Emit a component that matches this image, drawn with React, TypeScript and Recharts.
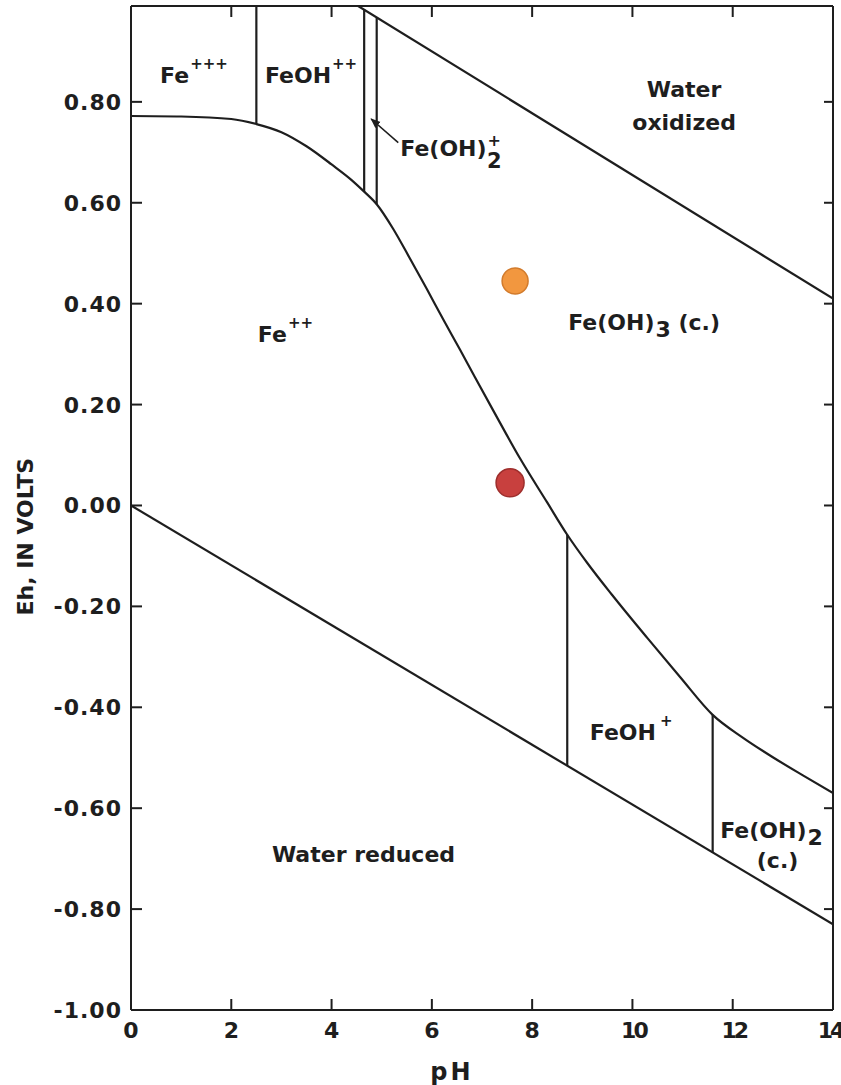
import React from 'react';
import { ComposedChart, Line, XAxis, YAxis, Scatter, ReferenceDot } from 'recharts';

// ---------- data ----------
const phTicks = [0, 2, 4, 6, 8, 10, 12, 14];
const ehTicks = [-1.0, -0.8, -0.6, -0.4, -0.2, 0, 0.2, 0.4, 0.6, 0.8];

const waterOxidationLine = [
  { ph: 4.53, eh: 0.99 },
  { ph: 14, eh: 0.41 },
];
const waterReductionLine = [
  { ph: 0, eh: 0.0 },
  { ph: 14, eh: -0.83 },
];
const ferricFerrousCurve = [
  { ph: 0, eh: 0.772 },
  { ph: 1.0, eh: 0.771 },
  { ph: 2.0, eh: 0.766 },
  { ph: 2.5, eh: 0.756 },
  { ph: 3.0, eh: 0.740 },
  { ph: 3.5, eh: 0.712 },
  { ph: 4.0, eh: 0.676 },
  { ph: 4.4, eh: 0.645 },
  { ph: 4.65, eh: 0.622 },
  { ph: 4.9, eh: 0.597 },
  { ph: 5.23, eh: 0.548 },
  { ph: 5.56, eh: 0.490 },
  { ph: 5.9, eh: 0.429 },
  { ph: 6.22, eh: 0.370 },
  { ph: 6.56, eh: 0.309 },
  { ph: 6.86, eh: 0.254 },
  { ph: 7.22, eh: 0.189 },
  { ph: 7.76, eh: 0.093 },
  { ph: 8.3, eh: 0.006 },
  { ph: 8.7, eh: -0.058 },
  { ph: 9.1, eh: -0.114 },
  { ph: 9.6, eh: -0.178 },
  { ph: 10.3, eh: -0.263 },
  { ph: 10.95, eh: -0.340 },
  { ph: 11.6, eh: -0.415 },
  { ph: 12.2, eh: -0.460 },
  { ph: 12.8, eh: -0.499 },
  { ph: 13.4, eh: -0.535 },
  { ph: 14, eh: -0.570 },
];
const feIIIFeOHBoundary = [
  { ph: 2.5, eh: 0.756 },
  { ph: 2.5, eh: 0.99 },
];
const feOHFeOH2Boundary = [
  { ph: 4.65, eh: 0.622 },
  { ph: 4.65, eh: 0.983 },
];
const feOH2FeOH3Boundary = [
  { ph: 4.9, eh: 0.597 },
  { ph: 4.9, eh: 0.967 },
];
const feIIFeOHBoundary = [
  { ph: 8.7, eh: -0.058 },
  { ph: 8.7, eh: -0.516 },
];
const feOHFeOH2cBoundary = [
  { ph: 11.6, eh: -0.415 },
  { ph: 11.6, eh: -0.688 },
];
const leaderArrow = [
  { ph: 5.33, eh: 0.719 },
  { ph: 4.79, eh: 0.766 },
];

const sampleOrange = [{ ph: 7.66, eh: 0.445 }];
const sampleRed = [{ ph: 7.56, eh: 0.045 }];

// region labels (anchor = start of text baseline, in pH / Eh)
const regionLabels = [
  { ph: 0.58, eh: 0.837, text: 'Fe', sup: '+++' },
  { ph: 2.67, eh: 0.837, text: 'FeOH', sup: '++' },
  { ph: 5.37, eh: 0.693, text: 'Fe(OH)', stackSup: '+', stackSub: '2' },
  { ph: 2.53, eh: 0.324, text: 'Fe', sup: '++' },
  { ph: 8.72, eh: 0.348, text: 'Fe(OH)', sub: '3', tail: ' (c.)' },
  { ph: 9.15, eh: -0.465, text: 'FeOH', sup: '+' },
  { ph: 11.75, eh: -0.659, text: 'Fe(OH)', sub: '2' },
  { ph: 12.48, eh: -0.719, text: '(c.)' },
  { ph: 2.81, eh: -0.707, text: 'Water reduced' },
];
const centeredLabels = [
  { ph: 11.03, eh: 0.81, text: 'Water' },
  { ph: 11.03, eh: 0.745, text: 'oxidized' },
];
const xAxisTitle = { ph: 6.4, eh: -1.139, text: 'pH' };
const yAxisTitle = { ph: -2.11, eh: -0.062, text: 'Eh, IN VOLTS' };

// ---------- style ----------
const FONT = '"DejaVu Sans", "Liberation Sans", sans-serif';
const INK = '#1e1e1e';
const LW = 2.2;
const TICK = 11;
const FW = 'bold';

const fmtEh = (v: number) => (v < 0 ? '-' : '') + Math.abs(v).toFixed(2);

const LeftTick = (props: any) => {
  const { x, y, payload } = props;
  return (
    <g>
      <line x1={x} x2={x + TICK} y1={y} y2={y} stroke={INK} strokeWidth={2} />
      <text x={x - 9} y={y} dy={8} textAnchor="end" fontFamily={FONT} fontWeight={FW} fontSize={22}
        letterSpacing={1} fill={INK}>{fmtEh(payload.value)}</text>
    </g>
  );
};
const RightTick = (props: any) => {
  const { x, y } = props;
  return <line x1={x} x2={x - 9} y1={y} y2={y} stroke={INK} strokeWidth={2} />;
};
const BottomTick = (props: any) => {
  const { x, y, payload } = props;
  const twoDigit = String(payload.value).length > 1;
  const last = payload.value === 14;
  return (
    <g>
      <line x1={x} x2={x} y1={y} y2={y - TICK} stroke={INK} strokeWidth={2} />
      <text x={last ? x - 3 : twoDigit ? x + 1 : x} y={y} dy={28} textAnchor="middle" fontFamily={FONT}
        fontWeight={FW} fontSize={22} letterSpacing={twoDigit ? -3 : 0} fill={INK}>
        {payload.value}
      </text>
    </g>
  );
};
const TopTick = (props: any) => {
  const { x, y } = props;
  return <line x1={x} x2={x} y1={y} y2={y + TICK} stroke={INK} strokeWidth={2} />;
};

const makeLabelShape = (l: any) => (p: any) => {
  const { cx, cy } = p;
  return (
    <text x={cx} y={cy} fontFamily={FONT} fontWeight={FW} fontSize={22} fill={INK}>
      {l.text}
      {l.sup ? <tspan dx={l.text === 'FeOH' && l.sup === '+' ? 4 : 1} dy={-14} fontSize={15}>{l.sup}</tspan> : null}
      {l.sub ? <tspan dx={1} dy={7}>{l.sub}</tspan> : null}
      {l.tail ? <tspan dy={-7}>{l.tail}</tspan> : null}
      {l.stackSup ? <tspan dx={1} dy={-9.5} fontSize={16}>{l.stackSup}</tspan> : null}
      {l.stackSub ? <tspan dx={-14} dy={21.5} fontSize={21}>{l.stackSub}</tspan> : null}
    </text>
  );
};
const makeCenteredShape = (l: any) => (p: any) => (
  <text x={p.cx} y={p.cy} textAnchor="middle" fontFamily={FONT} fontWeight={FW} fontSize={22} fill={INK}>{l.text}</text>
);
const xTitleShape = (p: any) => (
  <text x={p.cx} y={p.cy} textAnchor="middle" fontFamily={FONT} fontWeight={FW} fontSize={24} letterSpacing={3} fill={INK}>
    {xAxisTitle.text}
  </text>
);
const yTitleShape = (p: any) => (
  <text x={p.cx} y={p.cy} dy={8} textAnchor="middle" fontFamily={FONT} fontWeight={FW} fontSize={22}
    transform={`rotate(-90 ${p.cx} ${p.cy})`} fill={INK}>
    {yAxisTitle.text}
  </text>
);

const orangeShape = (p: any) => (
  <circle cx={p.cx} cy={p.cy} r={13} fill="#F2973F" stroke="#D27B2C" strokeWidth={1.5} />
);
const redShape = (p: any) => (
  <circle cx={p.cx} cy={p.cy} r={14} fill="#C8403E" stroke="#9E2E2C" strokeWidth={1.5} />
);

const lineProps = {
  dataKey: 'eh',
  type: 'linear' as const,
  stroke: INK,
  strokeWidth: LW,
  dot: false,
  activeDot: false,
  isAnimationActive: false,
  legendType: 'none' as const,
};

export default function App() {
  return (
    <div style={{ position: 'absolute', left: 0, top: 0, width: 841, height: 1085, background: '#fff' }}>
      <svg width={0} height={0} style={{ position: 'absolute' }}>
        <defs>
          <marker id="arrowHead" viewBox="0 0 10 10" refX="9" refY="5" markerWidth="10" markerHeight="10"
            orient="auto" markerUnits="userSpaceOnUse">
            <path d="M0,1 L10,5 L0,9 z" fill={INK} />
          </marker>
        </defs>
      </svg>
      <ComposedChart width={841} height={1085} margin={{ top: 5, right: 7, bottom: 0, left: 0 }}>
        <XAxis type="number" dataKey="ph" domain={[0, 14]} ticks={phTicks} allowDataOverflow
          height={75} tickSize={0} tickMargin={0} tickLine={false} interval={0}
          axisLine={{ stroke: INK, strokeWidth: 2 }} tick={<BottomTick />} />
        <XAxis xAxisId="top" orientation="top" type="number" dataKey="ph" domain={[0, 14]} ticks={phTicks}
          allowDataOverflow height={1} tickSize={0} tickMargin={0} tickLine={false} interval={0}
          axisLine={{ stroke: INK, strokeWidth: 2 }} tick={<TopTick />} />
        <YAxis type="number" domain={[-1, 0.99]} ticks={ehTicks} allowDataOverflow width={131}
          tickSize={0} tickMargin={0} tickLine={false} interval={0}
          axisLine={{ stroke: INK, strokeWidth: 2 }} tick={<LeftTick />} />
        <YAxis yAxisId="right" orientation="right" type="number" domain={[-1, 0.99]} ticks={ehTicks}
          allowDataOverflow width={1} tickSize={0} tickMargin={0} tickLine={false} interval={0}
          axisLine={{ stroke: INK, strokeWidth: 2 }} tick={<RightTick />} />

        <Line {...lineProps} data={waterOxidationLine} />
        <Line {...lineProps} data={waterReductionLine} />
        <Line {...lineProps} data={ferricFerrousCurve} type="monotone" />
        <Line {...lineProps} data={feIIIFeOHBoundary} />
        <Line {...lineProps} data={feOHFeOH2Boundary} />
        <Line {...lineProps} data={feOH2FeOH3Boundary} />
        <Line {...lineProps} data={feIIFeOHBoundary} />
        <Line {...lineProps} data={feOHFeOH2cBoundary} />
        <Line {...lineProps} data={leaderArrow} strokeWidth={1.6} markerEnd="url(#arrowHead)" />

        <Scatter data={sampleOrange} dataKey="eh" shape={orangeShape} isAnimationActive={false} />
        <Scatter data={sampleRed} dataKey="eh" shape={redShape} isAnimationActive={false} />

        {regionLabels.map((l, i) => (
          <ReferenceDot key={'r' + i} x={l.ph} y={l.eh} r={0} ifOverflow="visible" shape={makeLabelShape(l)} />
        ))}
        {centeredLabels.map((l, i) => (
          <ReferenceDot key={'c' + i} x={l.ph} y={l.eh} r={0} ifOverflow="visible" shape={makeCenteredShape(l)} />
        ))}
        <ReferenceDot x={xAxisTitle.ph} y={xAxisTitle.eh} r={0} ifOverflow="visible" shape={xTitleShape} />
        <ReferenceDot x={yAxisTitle.ph} y={yAxisTitle.eh} r={0} ifOverflow="visible" shape={yTitleShape} />
      </ComposedChart>
    </div>
  );
}
